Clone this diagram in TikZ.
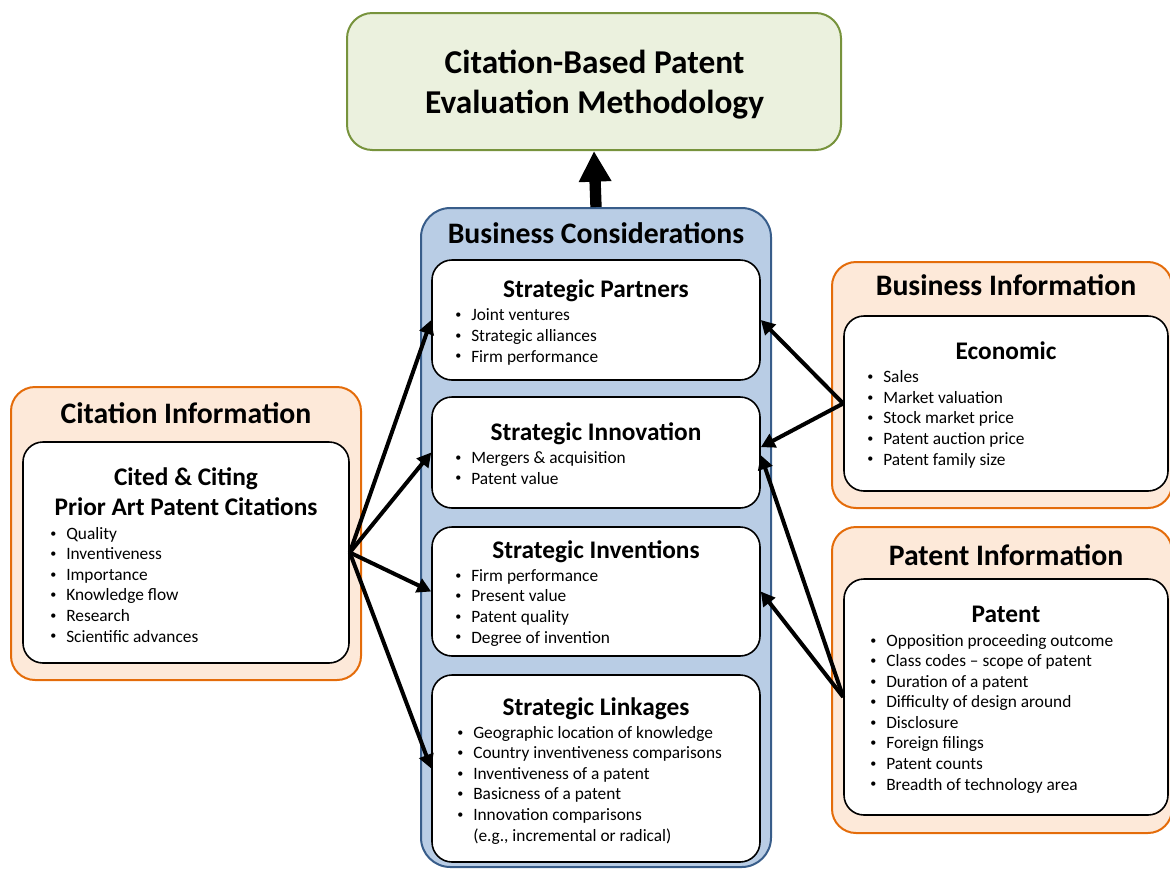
\documentclass[tikz,border=0pt]{standalone}
\usepackage{fontspec}
\setmainfont{Carlito}
\usepackage{tikz}
\usetikzlibrary{arrows.meta,positioning,fit,calc}

\definecolor{olivefill}{HTML}{EBF1DE}
\definecolor{oliveline}{HTML}{77933C}
\definecolor{bluefill}{HTML}{B9CDE5}
\definecolor{blueline}{HTML}{385D8A}
\definecolor{peachfill}{HTML}{FDE9D9}
\definecolor{peachline}{HTML}{E46C0A}

\newcommand{\bul}{\makebox[12pt][l]{\raisebox{0.12em}{\scalebox{0.7}{\textbullet}}}}

\begin{document}
\begin{tikzpicture}[
    x=0.75pt, y=-0.75pt,
    titlebox/.style={draw=oliveline, fill=olivefill, line width=1.5pt,
                     rounded corners=19pt, inner sep=0pt},
    titletext/.style={align=center, inner sep=0pt,
                      font=\fontsize{25}{30}\selectfont\bfseries},
    groupbox/.style={draw=peachline, fill=peachfill, line width=1.5pt,
                     rounded corners=18pt, inner sep=0pt},
    bizbox/.style={draw=blueline, fill=bluefill, line width=1.5pt,
                   rounded corners=22pt, inner sep=0pt},
    itembox/.style={draw=black, fill=white, line width=1.2pt,
                    rounded corners=15pt, inner sep=0pt},
    grouphead/.style={anchor=base, inner sep=0pt,
                      font=\fontsize{22.3}{26}\selectfont\bfseries},
    boxhead/.style={anchor=base, inner sep=0pt, align=center,
                    font=\fontsize{19}{22.5}\selectfont\bfseries},
    % lists are placed by the baseline of their last line
    items/.style={anchor=base west, align=left, inner sep=0pt,
                  font=\fontsize{13}{15.4}\selectfont},
    arrow/.style={-{Triangle[length=10.5pt,width=11pt]}, line width=3pt},
    bigarrow/.style={-{Triangle[length=23pt,width=23pt]}, line width=8.5pt},
  ]
  \useasboundingbox (0,0) rectangle (1170,868);

  \node[titlebox, fit={(347,13) (841,150)}] (method) {};
  \node[titletext] (methodtext) at (594.5,85) {Citation-Based Patent\\Evaluation Methodology};

  % business considerations column
  \node[bizbox, fit={(421,208) (771,867)}] (biz) {};
  \node[grouphead] (bizhead) at (596,243) {Business Considerations};

  \node[itembox, fit={(432,260) (760,380)}] (partners) {};
  \node[boxhead] (partnershead) at (596,297) {Strategic Partners};
  \node[items] (partnerslist) at (455,362)
    {\bul Joint ventures\\\bul Strategic alliances\\\bul Firm performance};

  \node[itembox, fit={(432,397) (760,508)}] (innov) {};
  \node[boxhead] (innovhead) at (596,440) {Strategic Innovation};
  \node[items] (innovlist) at (455,484)
    {\bul Mergers \& acquisition\\\bul Patent value};

  \node[itembox, fit={(432,527) (760,656)}] (invent) {};
  \node[boxhead] (inventhead) at (596,558) {Strategic Inventions};
  \node[items] (inventlist) at (455,643)
    {\bul Firm performance\\\bul Present value\\\bul Patent quality\\
     \bul Degree of invention};

  \node[itembox, fit={(432,675) (760,862)}] (link) {};
  \node[boxhead] (linkhead) at (596,715) {Strategic Linkages};
  \node[items] (linklist) at (457,841)
    {\bul Geographic location of knowledge\\\bul Country inventiveness comparisons\\
     \bul Inventiveness of a patent\\\bul Basicness of a patent\\
     \bul Innovation comparisons\\\hspace*{12pt}(e.g., incremental or radical)};

  % citation information
  \node[groupbox, fit={(11,387) (361,680)}] (citgroup) {};
  \node[grouphead] (cithead) at (186,423) {Citation Information};
  \node[itembox, fit={(23,442) (349,663)}] (cit) {};
  \node[boxhead] (citsub) at (186,515) {Cited \& Citing\\Prior Art Patent Citations};
  \node[items] (citlist) at (50,642)
    {\bul Quality\\\bul Inventiveness\\\bul Importance\\\bul Knowledge flow\\
     \bul Research\\\bul Scientific advances};

  % business information
  \node[groupbox, fit={(832,262) (1172,508)}] (bizinfo) {};
  \node[grouphead] (bizinfohead) at (1006,295) {Business Information};
  \node[itembox, fit={(844,316) (1168,491)}] (econ) {};
  \node[boxhead] (econhead) at (1006,359) {Economic};
  \node[items] (econlist) at (867,465)
    {\bul Sales\\\bul Market valuation\\\bul Stock market price\\
     \bul Patent auction price\\\bul Patent family size};

  % patent information
  \node[groupbox, fit={(832,527) (1172,833)}] (patinfo) {};
  \node[grouphead] (patinfohead) at (1006,565) {Patent Information};
  \node[itembox, fit={(844,579) (1168,815)}] (pat) {};
  \node[boxhead] (pathead) at (1006,622) {Patent};
  \node[items] (patlist) at (870,790)
    {\bul Opposition proceeding outcome\\\bul Class codes – scope of patent\\
     \bul Duration of a patent\\\bul Difficulty of design around\\
     \bul Disclosure\\\bul Foreign filings\\\bul Patent counts\\
     \bul Breadth of technology area};

  \draw[bigarrow] (biz.north) -- (method.south);

  \draw[arrow] (cit.east) -- (partners.west);
  \draw[arrow] (cit.east) -- (innov.west);
  \draw[arrow] (cit.east) -- (invent.west);
  \draw[arrow] (cit.east) -- (link.west);

  \draw[arrow] (econ.west) -- (partners.east);
  \draw[arrow] (econ.west) -- ([yshift=4pt]innov.east);
  \draw[arrow] (pat.west) -- ([yshift=-2pt]innov.east);
  \draw[arrow] (pat.west) -- (invent.east);

\end{tikzpicture}
\end{document}
